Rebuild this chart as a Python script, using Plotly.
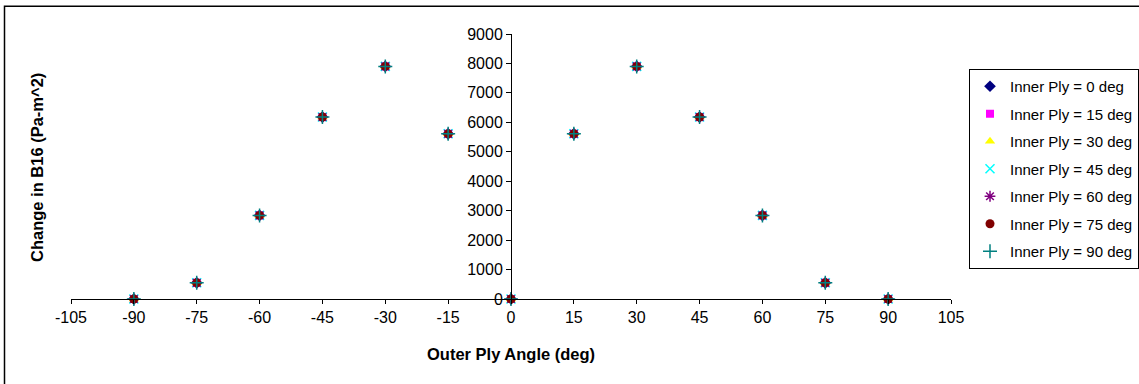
import plotly.graph_objects as go

# Data
outer_angles = [-90, -75, -60, -45, -30, -15, 0, 15, 30, 45, 60, 75, 90]
series_names = ["Inner Ply = 0 deg", "Inner Ply = 15 deg", "Inner Ply = 30 deg",
                "Inner Ply = 45 deg", "Inner Ply = 60 deg", "Inner Ply = 75 deg",
                "Inner Ply = 90 deg"]
inner0 = [0, 550, 2840, 6180, 7900, 5610, 0, 5610, 7900, 6180, 2840, 550, 0]
inner15 = [0, 550, 2840, 6180, 7900, 5610, 0, 5610, 7900, 6180, 2840, 550, 0]
inner30 = [0, 550, 2840, 6180, 7900, 5610, 0, 5610, 7900, 6180, 2840, 550, 0]
inner45 = [0, 550, 2840, 6180, 7900, 5610, 0, 5610, 7900, 6180, 2840, 550, 0]
inner60 = [0, 550, 2840, 6180, 7900, 5610, 0, 5610, 7900, 6180, 2840, 550, 0]
inner75 = [0, 550, 2840, 6180, 7900, 5610, 0, 5610, 7900, 6180, 2840, 550, 0]
inner90 = [0, 550, 2840, 6180, 7900, 5610, 0, 5610, 7900, 6180, 2840, 550, 0]
series_values = [inner0, inner15, inner30, inner45, inner60, inner75, inner90]
x_ticks = list(range(-105, 106, 15))
y_ticks = list(range(0, 9001, 1000))

styles = [
    dict(symbol="diamond", color="#000080", size=9),
    dict(symbol="square", color="#FF00FF", size=8),
    dict(symbol="triangle-up", color="#FFFF00", size=9),
    dict(symbol="x-thin-open", color="#00FFFF", size=9, line=dict(color="#00FFFF", width=1.5)),
    dict(symbol="asterisk-open", color="#800080", size=9, line=dict(color="#800080", width=1.5)),
    dict(symbol="circle", color="#800000", size=9),
    dict(symbol="cross-thin-open", color="#008080", size=10, line=dict(color="#008080", width=1.5)),
]

FONT = "Liberation Sans, Arial, sans-serif"

fig = go.Figure()
for i, (name, vals, st) in enumerate(zip(series_names, series_values, styles)):
    marker = dict(symbol=st["symbol"], color=st["color"], size=st["size"])
    if "line" in st:
        marker["line"] = st["line"]
    else:
        marker["line"] = dict(width=0)
    fig.add_trace(go.Scatter(x=outer_angles, y=vals, mode="markers", name=name,
                             marker=marker, cliponaxis=False, legendgroup=f"g{i}"))

L, R, T, B = 71, 188, 34, 85
W, H = 1139, 384
pw, ph = W - L - R, H - T - B

def px_x(p):
    return (p - L) / pw

def px_y(p):
    return (H - B - p) / ph

fig.update_layout(
    width=W, height=H,
    margin=dict(l=L, r=R, t=T, b=B, pad=0, autoexpand=False),
    paper_bgcolor="white", plot_bgcolor="white",
    font=dict(family=FONT, size=15, color="black"),
    showlegend=True,
    legend=dict(
        x=px_x(969), y=px_y(69), xanchor="left", yanchor="top",
        xref="paper", yref="paper",
        bordercolor="black", borderwidth=1, bgcolor="white",
        font=dict(family=FONT, size=15, color="black"),
        tracegroupgap=5,
    ),
    xaxis=dict(
        range=[-105, 105], tickvals=x_ticks, ticktext=[str(v) for v in x_ticks],
        showgrid=False, zeroline=False, showline=True, linecolor="black", linewidth=1,
        ticks="outside", ticklen=4, tickcolor="black",
        tickfont=dict(family=FONT, size=16, color="black"),
    ),
    yaxis=dict(
        range=[0, 9000], tickvals=y_ticks, ticktext=[str(v) for v in y_ticks],
        showgrid=False, zeroline=False, showline=True, linecolor="black", linewidth=1,
        ticks="outside", ticklen=5, tickcolor="black",
        anchor="free", position=0.5,
        tickfont=dict(family=FONT, size=16, color="black"),
    ),
    annotations=[
        dict(text="<b>Outer Ply Angle (deg)</b>", xref="paper", yref="paper",
             x=0.5, y=px_y(354), xanchor="center", yanchor="middle", showarrow=False,
             font=dict(family=FONT, size=16.5, color="black")),
        dict(text="<b>Change in B16 (Pa-m^2)</b>", xref="paper", yref="paper",
             x=px_x(37), y=px_y(168), xanchor="center", yanchor="middle", showarrow=False,
             textangle=-90, font=dict(family=FONT, size=16.5, color="black")),
    ],
    shapes=[
        dict(type="rect", xref="paper", yref="paper",
             x0=px_x(4.5), y0=px_y(500), x1=px_x(1300), y1=px_y(6.3),
             line=dict(color="black", width=1.5), fillcolor="rgba(0,0,0,0)", layer="below"),
    ],
)

fig.write_html("out.html")
